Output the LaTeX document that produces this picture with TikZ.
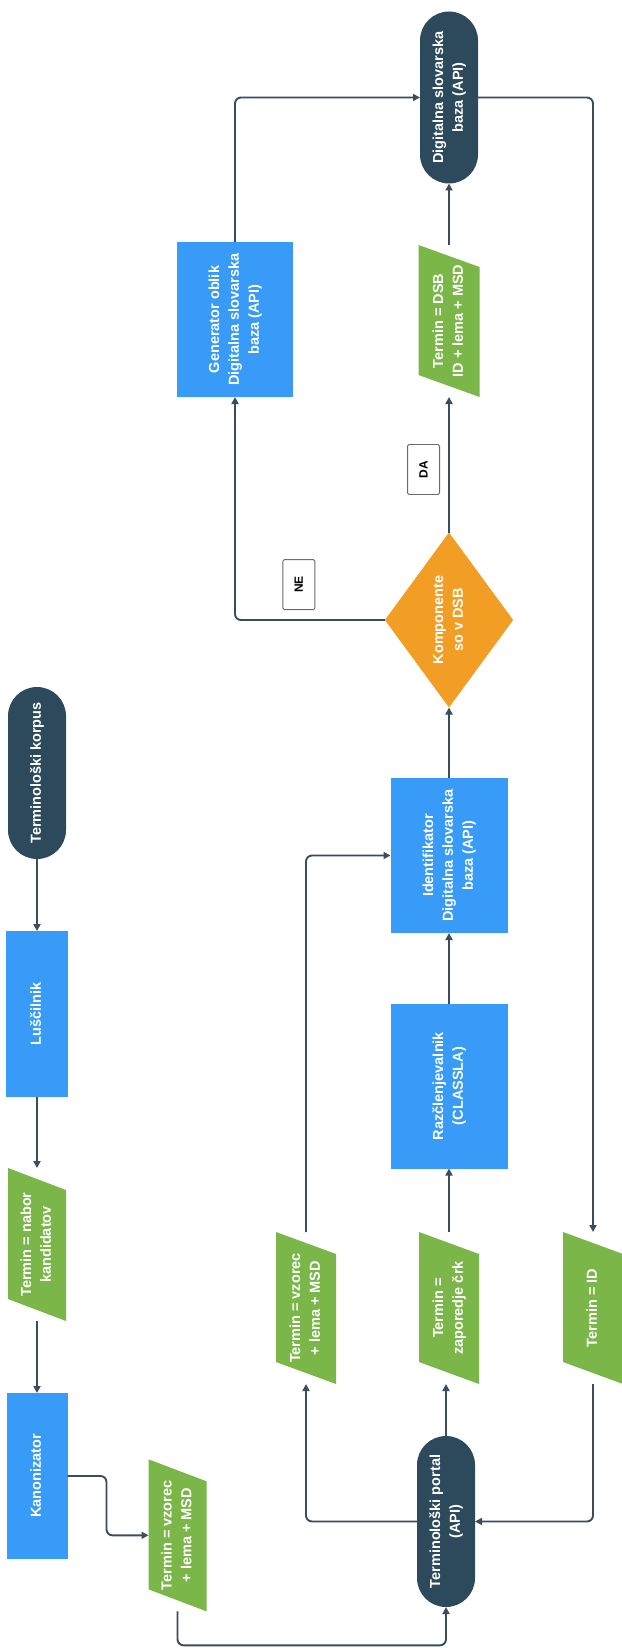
\documentclass[tikz,border=0pt]{standalone}
\usepackage{fontspec}
\setmainfont{Liberation Sans}
\usetikzlibrary{shapes.geometric,arrows.meta}
\definecolor{darkc}{HTML}{2C4A5C}
\definecolor{bluec}{HTML}{379BF7}
\definecolor{greenc}{HTML}{7AB648}
\definecolor{orangec}{HTML}{F29E24}
\definecolor{linec}{HTML}{3A4D5C}
\definecolor{lblc}{HTML}{6A6A6A}
\newcommand{\vtext}[1]{\rotatebox{90}{\begin{tabular}{@{}c@{}}#1\end{tabular}}}
\begin{document}
\begin{tikzpicture}[x=1pt,y=-1pt,
  base/.style={inner sep=0pt, outer sep=0pt, text=white, font=\fontsize{14.5}{19.8}\selectfont\bfseries},
  term/.style={base, fill=darkc, rounded corners=29pt, minimum width=58pt, minimum height=172pt},
  proc/.style={base, fill=bluec, minimum width=116pt, minimum height=155pt},
  io/.style={base, minimum width=60pt, minimum height=152pt,
    path picture={\fill[greenc] (path picture bounding box.north west) -- ([yshift=-22pt]path picture bounding box.north east) -- (path picture bounding box.south east) -- ([yshift=22pt]path picture bounding box.south west) -- cycle;}},
  dec/.style={base, diamond, fill=orangec, minimum width=115pt, minimum height=175pt},
  lbl/.style={draw=lblc, fill=white, line width=0.9pt, text=black, rounded corners=1.5pt,
    font=\fontsize{12}{14}\selectfont\bfseries, minimum width=32pt, minimum height=50pt, inner sep=0pt},
  arr/.style={draw=linec, line width=1.9pt, -{Triangle[length=7pt,width=7pt]}, rounded corners=6pt},
]
\useasboundingbox (0,0) rectangle (621,1648);
\fill[white] (0,0) rectangle (621,1648);

% nodes
\node[term] (dsb) at (449,97.5) {\vtext{Digitalna slovarska\\baza (API)}};
\node[proc] (gen) at (235,319.5) {\vtext{Generator oblik\\Digitalna slovarska\\baza (API)}};
\node[io, minimum width=61pt] (odsb) at (449,321) {\vtext{Termin = DSB\\ID + lema + MSD}};
\node[dec] (dia) at (449,620) {\vtext{Komponente\\so v DSB}};
\node[term] (korp) at (37,773) {\vtext{Terminološki korpus}};
\node[proc, minimum width=117pt] (ident) at (449,855.5) {\vtext{Identifikator\\Digitalna slovarska\\baza (API)}};
\node[proc, minimum width=62pt, minimum height=166pt] (lusc) at (37,1014) {\vtext{Luščilnik}};
\node[proc, minimum width=117pt, minimum height=165pt] (razc) at (449,1086) {\vtext{Razčlenjevalnik\\(CLASSLA)}};
\node[io, minimum width=58pt, minimum height=153pt] (nabor) at (37,1244.5) {\vtext{Termin = nabor\\kandidatov}};
\node[io] (vz1) at (306,1308) {\vtext{Termin = vzorec\\+ lema + MSD}};
\node[io] (zap) at (449,1308) {\vtext{Termin =\\zaporedje črk}};
\node[io] (tid) at (593,1308) {\vtext{Termin = ID}};
\node[proc, minimum width=61pt, minimum height=166pt] (kan) at (37,1476) {\vtext{Kanonizator}};
\node[io, minimum width=58pt] (vz2) at (177.5,1535.3) {\vtext{Termin = vzorec\\+ lema + MSD}};
\node[term, minimum height=171pt] (portal) at (446,1521.5) {\vtext{Terminološki portal\\(API)}};

% connectors
\draw[arr] (korp.south) -- (lusc.north);
\draw[arr] (lusc.south) -- (nabor.north);
\draw[arr] (nabor.south) -- (kan.north);
\draw[arr] (kan.east) -- ++(39,0) |- (vz2.west);
\draw[arr] (vz2.south) -- ++(0,34) -| (portal.south);
\draw[arr] (portal.west) -| (vz1.south);
\draw[arr] (portal.north) -- (portal.north |- zap.south);
\draw[arr] (tid.south) |- (portal.east);
\draw[arr] (vz1.north) |- (ident.west);
\draw[arr] (zap.north) -- (razc.south);
\draw[arr] (razc.north) -- (ident.south);
\draw[arr] (ident.north) -- (dia.south);
\draw[arr] (dia.north) -- node[lbl, left=9pt, pos=0.465] {\rotatebox{90}{DA}} (odsb.south);
\draw[arr] (dia.west) -| node[lbl, above=10pt, pos=0.287] {\rotatebox{90}{NE}} (gen.south);
\draw[arr] (gen.north) |- (dsb.west);
\draw[arr] (odsb.north) -- (dsb.south);
\draw[arr] (dsb.east) -| (tid.north);
\end{tikzpicture}
\end{document}
